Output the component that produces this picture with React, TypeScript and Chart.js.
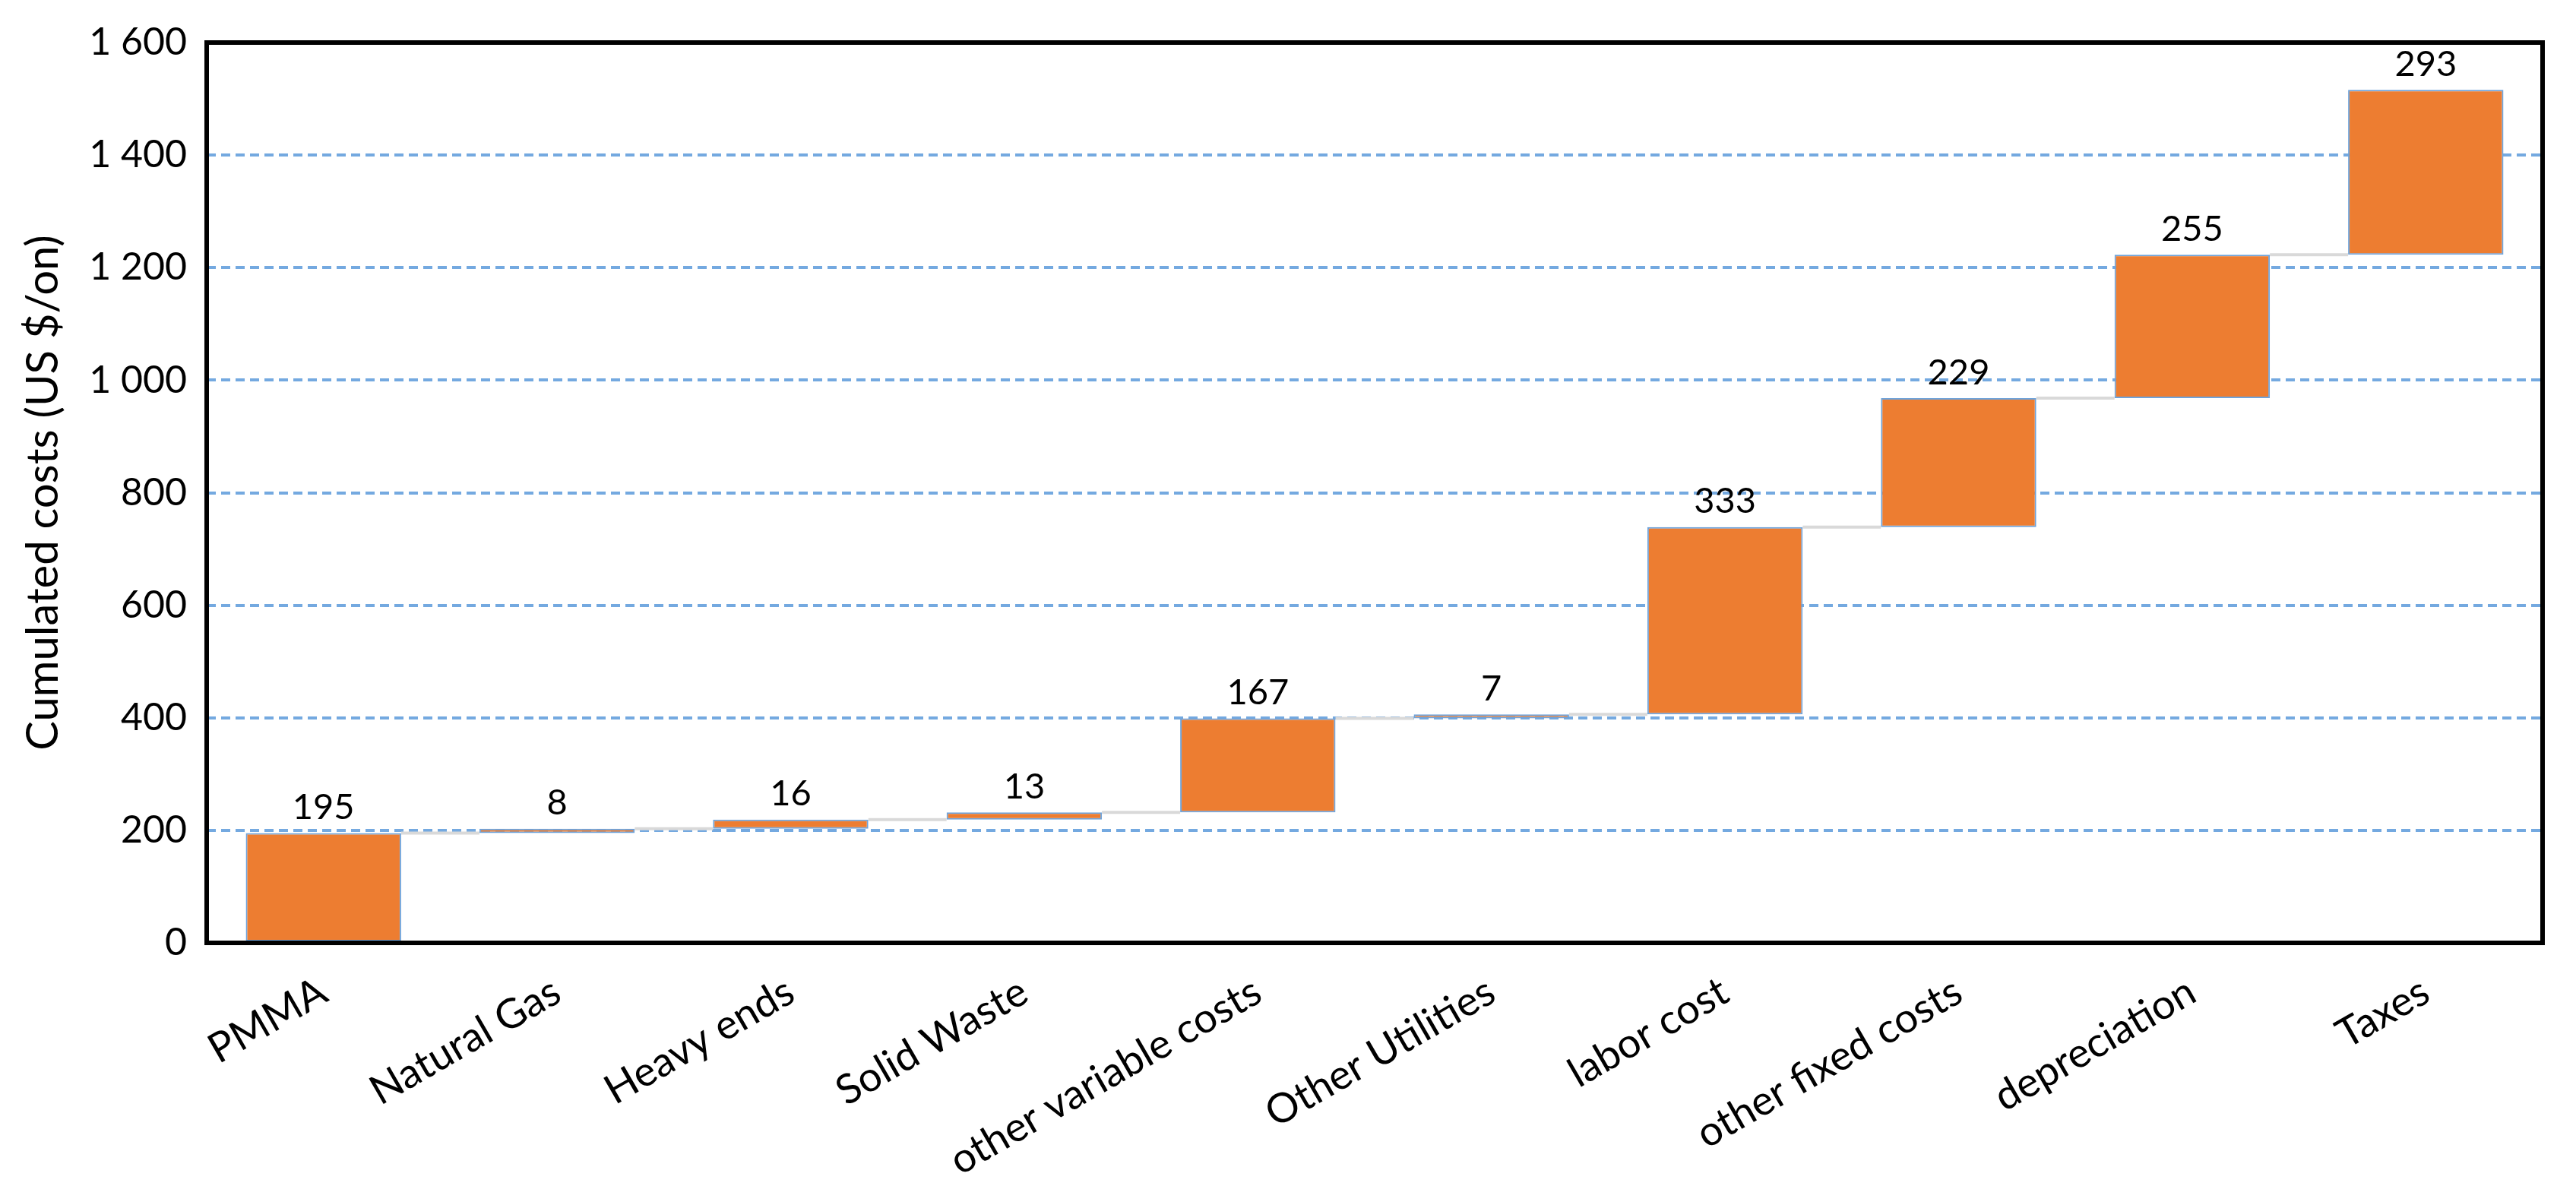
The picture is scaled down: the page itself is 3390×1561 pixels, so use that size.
import React, { useEffect, useRef } from 'react';
import { Chart, registerables } from 'chart.js';

Chart.register(...registerables);

const categories = [
  'PMMA',
  'Natural Gas',
  'Heavy ends',
  'Solid Waste',
  'other variable costs',
  'Other Utilities',
  'labor cost',
  'other fixed costs',
  'depreciation',
  'Taxes',
];
const increments = [195, 8, 16, 13, 167, 7, 333, 229, 255, 293];
const yTickValues = [0, 200, 400, 600, 800, 1000, 1200, 1400, 1600];
const yTitle = 'Cumulated costs (US $/on)';

const FONT = 'Lato, Carlito, Calibri, "Open Sans", sans-serif';

function buildRanges(vals: number[]): [number, number][] {
  const out: [number, number][] = [];
  let acc = 0;
  for (const v of vals) {
    out.push([acc, acc + v]);
    acc += v;
  }
  return out;
}

function fmtTick(v: number): string {
  if (v >= 1000) {
    const th = Math.floor(v / 1000);
    const rest = String(v % 1000).padStart(3, '0');
    return th + ' ' + rest;
  }
  return String(v);
}

const PLOT_LEFT = 272;
const PLOT_RIGHT = 3346;
const PLOT_TOP = 39;
const PLOT_BOTTOM = 1241;
const W = 3390;
const H = 1561;
const PAD_LEFT = 22;

export default function App() {
  const ref = useRef<HTMLCanvasElement | null>(null);

  useEffect(() => {
    document.body.style.margin = '0';
    let chart: Chart | null = null;
    let cancelled = false;
    const ranges = buildRanges(increments);

    const connectorPlugin = {
      id: 'connectors',
      beforeDatasetsDraw(c: any) {
        const meta = c.getDatasetMeta(0);
        const ys = c.scales.y;
        const ctx = c.ctx;
        ctx.save();
        ctx.strokeStyle = '#D9D9D9';
        ctx.lineWidth = 4;
        for (let i = 0; i < meta.data.length - 1; i++) {
          const a = meta.data[i] as any;
          const b = meta.data[i + 1] as any;
          const y = ys.getPixelForValue(ranges[i][1]);
          ctx.beginPath();
          ctx.moveTo(a.x + a.width / 2, y);
          ctx.lineTo(b.x - b.width / 2, y);
          ctx.stroke();
        }
        ctx.restore();
      },
    };

    const labelPlugin = {
      id: 'valueLabels',
      afterDatasetsDraw(c: any) {
        const meta = c.getDatasetMeta(0);
        const ctx = c.ctx;
        ctx.save();
        ctx.fillStyle = '#000';
        ctx.font = `47px ${FONT}`;
        ctx.textAlign = 'center';
        ctx.textBaseline = 'bottom';
        meta.data.forEach((el: any, i: number) => {
          const top = Math.min(el.y, el.base);
          ctx.fillText(String(increments[i]), el.x, top - 10);
        });
        ctx.restore();
      },
    };

    const framePlugin = {
      id: 'frame',
      afterDraw(c: any) {
        const a = c.chartArea;
        const ctx = c.ctx;
        ctx.save();
        ctx.strokeStyle = '#000';
        ctx.lineWidth = 6;
        ctx.strokeRect(a.left, a.top, a.right - a.left, a.bottom - a.top);
        ctx.restore();
      },
    };

    const make = () => {
      if (cancelled || !ref.current) return;
      chart = new Chart(ref.current, {
        type: 'bar',
        data: {
          labels: categories,
          datasets: [
            {
              data: ranges as any,
              backgroundColor: '#ED7D31',
              borderColor: '#6FA3DA',
              borderWidth: 2,
              borderSkipped: false,
              barPercentage: 0.665,
              categoryPercentage: 1,
            },
          ],
        },
        options: {
          responsive: false,
          animation: false,
          devicePixelRatio: 1,
          layout: {
            padding: { left: PAD_LEFT, top: PLOT_TOP, right: W - PLOT_RIGHT, bottom: 0 },
          },
          plugins: {
            legend: { display: false },
            tooltip: { enabled: false },
            title: { display: false },
          },
          scales: {
            x: {
              grid: { display: false },
              border: { display: false },
              ticks: {
                color: '#000',
                font: { family: FONT, size: 54 },
                maxRotation: 30,
                minRotation: 30,
                padding: 24,
                autoSkip: false,
              },
              afterFit(scale: any) {
                scale.height = H - PLOT_BOTTOM;
              },
            },
            y: {
              min: 0,
              max: 1600,
              afterBuildTicks(scale: any) {
                scale.ticks = yTickValues.map((v) => ({ value: v }));
              },
              grid: {
                color: '#74A9E0',
                lineWidth: 4,
                drawTicks: false,
              },
              border: { display: false, dash: [12, 7] },
              ticks: {
                color: '#000',
                font: { family: FONT, size: 50 },
                padding: 26,
                callback: (v: any) => fmtTick(Number(v)),
              },
              title: {
                display: true,
                text: yTitle,
                color: '#000',
                font: { family: FONT, size: 58 },
                padding: { top: 0, bottom: 8 },
              },
              afterFit(scale: any) {
                scale.width = PLOT_LEFT - PAD_LEFT;
              },
            },
          },
        },
        plugins: [connectorPlugin, labelPlugin, framePlugin],
      } as any);
    };

    const fonts: any = (document as any).fonts;
    if (fonts && fonts.load) {
      Promise.all([fonts.load(`50px Lato`), fonts.load(`54px Lato`)])
        .catch(() => null)
        .then(() => make());
    } else {
      make();
    }

    return () => {
      cancelled = true;
      if (chart) chart.destroy();
    };
  }, []);

  return (
    <div style={{ position: 'absolute', left: 0, top: 0, width: W, height: H, background: '#fff' }}>
      <canvas ref={ref} width={W} height={H} style={{ width: W, height: H, display: 'block' }} />
    </div>
  );
}
